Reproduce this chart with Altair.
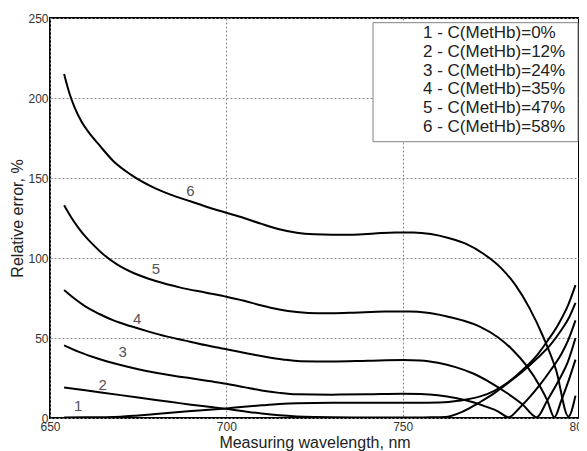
import altair as alt
import pandas as pd

series_names = [
    "1 - C(MetHb)=0%",
    "2 - C(MetHb)=12%",
    "3 - C(MetHb)=24%",
    "4 - C(MetHb)=35%",
    "5 - C(MetHb)=47%",
    "6 - C(MetHb)=58%",
]

# curve 1
c1_x = [654, 660, 665, 670, 675, 680, 685, 690, 695, 700, 705, 710, 715, 720, 730, 740, 750, 757, 763,
        768, 772, 776, 780, 784, 788, 791, 794, 797, 799]
c1_y = [0.3, 0.4, 0.5, 0.8, 1.6, 2.5, 3.4, 4.3, 5.1, 6.0, 7.0, 7.9, 8.7, 9.2, 9.5, 9.5, 9.5, 9.6, 10.0,
        11.5, 13.5, 17, 22.5, 30, 39, 48, 58, 71, 83]
# curve 2
c2_x = [654, 660, 665, 670, 675, 680, 685, 690, 695, 700, 705, 710, 715, 720, 725, 730, 740, 750, 758,
        762, 767, 772, 776, 780, 784, 788, 792, 795, 797, 799]
c2_y = [19, 17.3, 15.8, 14.3, 12.8, 11.3, 9.8, 8.3, 7.0, 5.7, 4.2, 2.8, 1.7, 1.0, 0.6, 0.4, 0.3, 0.3, 0.4,
        0.6, 4, 10, 15.5, 22, 29, 37, 46, 55, 62, 72]
# curve 3
c3_x = [654, 658, 662, 666, 670, 675, 680, 685, 690, 695, 700, 705, 710, 715, 720, 730, 740, 750, 755,
        760, 765, 770, 774, 777, 780, 783, 786, 789, 792, 795, 797, 799]
c3_y = [45.4, 41.5, 38.3, 35.5, 33.1, 30.5, 28.3, 26.4, 24.8, 23.1, 21.4, 19.3, 17.2, 15.7, 14.8, 14.6, 14.8, 15.2, 15.0,
        14.2, 12.5, 9.8, 6.8, 4.2, 0.5, 6, 13, 21, 30, 40, 49, 61]
# curve 4
c4_x = [654, 657, 660, 664, 668, 673, 678, 683, 688, 692.5, 700, 706, 711, 716, 721, 730, 740, 750, 755,
        760, 765, 770, 775, 780, 784, 788, 791, 794, 797, 799]
c4_y = [80, 74.5, 69.8, 65, 61, 57.3, 54, 51, 48.5, 46.2, 43, 40.3, 38.3, 36.6, 35.5, 35.3, 35.8, 36.3, 36,
        34.5, 31.8, 27.8, 22, 15, 8.5, 0.5, 11, 22.5, 36, 50]
# curve 5
c5_x = [654, 656, 658, 660, 662, 665, 669, 674, 680, 687, 694, 700, 705, 710, 715, 720, 726, 735, 745,
        752, 757, 762, 767, 772, 777, 781, 785, 789, 791, 793, 795, 797, 799]
c5_y = [133, 125.5, 119, 113.5, 108.8, 102.5, 96, 90.3, 85.6, 81.5, 78.4, 75.8, 73.3, 70.3, 67.8, 66.2, 65.4, 65.8, 66.5,
        66.6, 65.8, 63.8, 61, 57, 50.5, 43, 33, 19.5, 11, 0.5, 11, 23, 36.5]
# curve 6
c6_x = [654, 655.5, 657, 659, 661, 664, 668, 673, 679, 684, 690, 695, 700, 705, 710, 715, 720, 725, 730,
        736, 742, 748, 753, 758, 763, 768, 773, 778, 782, 786, 790, 793.5, 797, 799]
c6_y = [215, 203, 194, 185, 178.5, 170.5, 160.5, 152, 144.5, 139.8, 135.3, 131.6, 128.3, 125, 121.3, 118, 115.8, 114.8, 114.5,
        114.6, 115.3, 116, 116, 115, 112.5, 108.8, 102.5, 93.5, 83, 68.5, 50, 30, 1, 14]

curve_x = [c1_x, c2_x, c3_x, c4_x, c5_x, c6_x]
curve_y = [c1_y, c2_y, c3_y, c4_y, c5_y, c6_y]

# curve number labels
label_text = ["1", "2", "3", "4", "5", "6"]
label_x = [658, 664.9, 670.6, 674.7, 680, 689.8]
label_y = [7.3, 20.8, 41, 62, 93.3, 141.6]

x_ticks = [650, 700, 750, 800]
y_ticks = [0, 50, 100, 150, 200, 250]

rows = []
for name, xs, ys in zip(series_names, curve_x, curve_y):
    for xv, yv in zip(xs, ys):
        rows.append({"x": xv, "y": yv, "series": name})
lines_df = pd.DataFrame(rows)
labels_df = pd.DataFrame({"x": label_x, "y": label_y, "t": label_text})

FONT = "Liberation Sans"

x_enc = alt.X(
    "x:Q",
    scale=alt.Scale(domain=[650, 800], nice=False, zero=False),
    axis=alt.Axis(
        values=x_ticks, title="Measuring wavelength, nm", labelFlush=False,
        labelPadding=3, titlePadding=2,
    ),
)
y_enc = alt.Y(
    "y:Q",
    scale=alt.Scale(domain=[0, 250], nice=False, zero=False),
    axis=alt.Axis(values=y_ticks, title="Relative error, %", labelPadding=2, titlePadding=2),
)

lines = alt.Chart(lines_df).mark_line(
    strokeWidth=2, interpolate="monotone", clip=True, color="black"
).encode(x=x_enc, y=y_enc, detail="series:N")

texts = alt.Chart(labels_df).mark_text(
    font=FONT, fontSize=15, color="#555555", align="center", baseline="middle"
).encode(x="x:Q", y="y:Q", text="t:N")

# legend box (layout positions in pixels relative to the plot area)
LEG_LEFT, LEG_RIGHT, LEG_TOP, LEG_BOTTOM = 323, 528, 4.7, 123.7
LEG_TEXT_X, LEG_ROW0, LEG_ROW_STEP = 373, 15.3, 18.7

one = pd.DataFrame({"k": [0]})
legend_box = alt.Chart(one).mark_rect(
    fill="white", stroke="#808080", strokeWidth=1
).encode(
    x=alt.value(LEG_LEFT), x2=alt.value(LEG_RIGHT),
    y=alt.value(LEG_TOP), y2=alt.value(LEG_BOTTOM),
)

legend_texts = []
for i, name in enumerate(series_names):
    legend_texts.append(
        alt.Chart(one).mark_text(
            text=name, font=FONT, fontSize=17, color="#222222", align="left", baseline="middle"
        ).encode(x=alt.value(LEG_TEXT_X), y=alt.value(LEG_ROW0 + i * LEG_ROW_STEP))
    )

chart = (
    alt.layer(lines, texts, legend_box, *legend_texts)
    .properties(
        width=529, height=400,
        autosize=alt.AutoSizeParams(type="none"),
        padding={"left": 42, "top": 10, "right": 0, "bottom": 33},
        background="white",
    )
    .configure_view(stroke="black", strokeWidth=2)
    .configure_axis(
        grid=True, gridColor="#8a8a8a", gridDash=[2, 2], gridWidth=1,
        domain=False, ticks=False,
        labelFont=FONT, labelFontSize=12, labelColor="#333333",
        titleFont=FONT, titleFontSize=16, titleFontWeight="normal", titleColor="#222222",
    )
)

chart.save("out.html", embed_options={"renderer": "svg", "actions": False})
